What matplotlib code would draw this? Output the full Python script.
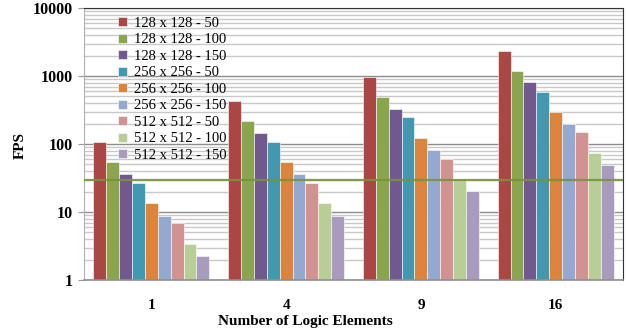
import numpy as np
import matplotlib
matplotlib.use("Agg")
import matplotlib.pyplot as plt
from matplotlib.ticker import FixedLocator, LogLocator, NullFormatter

plt.rcParams['font.family'] = ['Liberation Serif', 'DejaVu Serif']

# categories and series (FPS)
elements = ["1", "4", "9", "16"]
series_names = ["128 x 128 - 50", "128 x 128 - 100", "128 x 128 - 150",
                 "256 x 256 - 50", "256 x 256 - 100", "256 x 256 - 150",
                 "512 x 512 - 50", "512 x 512 - 100", "512 x 512 - 150"]
fps_128_50 = [108, 430, 980, 2330]
fps_128_100 = [54, 216, 493, 1180]
fps_128_150 = [36, 144, 327, 818]
fps_256_50 = [27, 107, 247, 588]
fps_256_100 = [13.6, 54, 122, 292]
fps_256_150 = [8.8, 36, 81, 195]
fps_512_50 = [6.9, 27, 61, 148]
fps_512_100 = [3.4, 13.6, 30.6, 74]
fps_512_150 = [2.25, 8.8, 20.4, 49]
target_fps = 30
yticks = [1, 10, 100, 1000, 10000]

all_series = [fps_128_50, fps_128_100, fps_128_150, fps_256_50, fps_256_100,
              fps_256_150, fps_512_50, fps_512_100, fps_512_150]
colors = ["#AA4643", "#89A54E", "#71588F", "#4198AF", "#DB843D",
          "#93A9CF", "#D19392", "#B9CD96", "#A99BBD"]

fig = plt.figure(figsize=(6.28, 3.33), dpi=100)
ax = fig.add_axes([84/628, 53/333, 539/628, 272/333])

x = np.arange(len(elements))
w = 0.86 / len(all_series)
for i, (vals, c, name) in enumerate(zip(all_series, colors, series_names)):
    off = (i - (len(all_series) - 1) / 2) * w
    ax.bar(x + off, vals, w, bottom=0.0001, color=c, edgecolor="white",
           linewidth=0.4, label=name, zorder=2)

ax.axhline(target_fps, color="#77933C", lw=1.6, alpha=0.9, zorder=3)

ax.set_yscale("log")
ax.set_ylim(1, 10000)
ax.set_xlim(-0.5, len(elements) - 0.5)
ax.yaxis.set_major_locator(FixedLocator(yticks))
ax.set_yticklabels([str(t) for t in yticks], fontweight="bold", fontsize=11.5)
ax.yaxis.set_minor_locator(LogLocator(base=10, subs=np.arange(2, 10)))
ax.yaxis.set_minor_formatter(NullFormatter())
ax.tick_params(axis="y", which="major", length=4, color="#999999", pad=4)
ax.tick_params(axis="y", which="minor", length=0)
ax.set_xticks(x)
ax.set_xticklabels(elements, fontweight="bold", fontsize=11)
ax.tick_params(axis="x", length=0, pad=14)

ax.set_axisbelow(True)
ax.grid(which="major", axis="y", color="#8c8c8c", lw=1.0)
ax.grid(which="minor", axis="y", color="#c8c8c8", lw=1.0)

ax.spines["left"].set_color("#b0b0b0")
ax.spines["bottom"].set_color("#909090")
ax.spines["bottom"].set_linewidth(1.2)
ax.spines["top"].set_color("#333333")
ax.spines["right"].set_color("#333333")

fig.text(20/628, 1 - 145/333, "FPS", rotation=90, ha="center", va="center",
         fontweight="bold", fontsize=11)
fig.text(305/628, 1 - 322/333, "Number of Logic Elements", ha="center",
         va="center", fontweight="bold", fontsize=11)

leg = ax.legend(loc="upper left", bbox_to_anchor=(28/539, 1 - 3/272),
                frameon=False, fontsize=10.5, handlelength=0.6,
                handleheight=0.6, handletextpad=0.5, labelspacing=0.24,
                borderaxespad=0)

fig.savefig("out.png", dpi=100)
